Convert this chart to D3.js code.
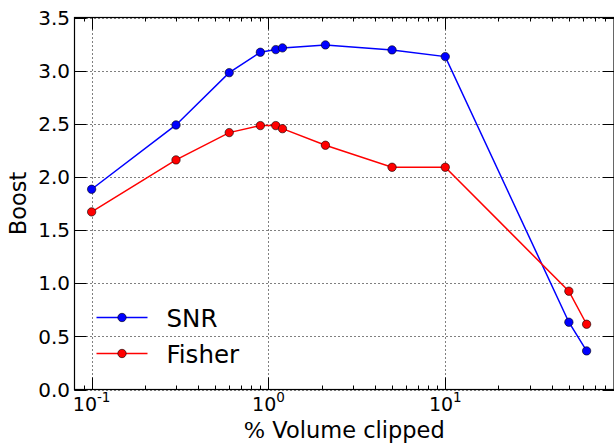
<!DOCTYPE html>
<html><head><meta charset="utf-8">
<script src="https://cdn.jsdelivr.net/npm/d3@7"></script>
<style>body{margin:0;background:#fff}svg{display:block}text{font-family:"DejaVu Sans",sans-serif;fill:#000}</style>
</head><body>
<svg id="c" width="614" height="445"></svg>
<script>
const xValues = [0.1, 0.3, 0.6, 0.9, 1.1, 1.2, 2.1, 5, 10, 50, 63];
const snrValues = [1.884, 2.489, 2.981, 3.173, 3.198, 3.214, 3.242, 3.195, 3.132, 0.633, 0.363];
const fisherValues = [1.671, 2.160, 2.417, 2.483, 2.483, 2.454, 2.298, 2.091, 2.091, 0.925, 0.614];
const yTicks = [0.0, 0.5, 1.0, 1.5, 2.0, 2.5, 3.0, 3.5];
const xMajorTicks = [0.1, 1, 10];
const xExponents = ["-1", "0", "1"];
const seriesNames = ["SNR", "Fisher"];
const seriesColors = ["#0000ff", "#ff0000"];

const L = 74.5, R = 614, T = 17.5, B = 389.5;
const svg = d3.select("#c");
const x = d3.scaleLog().domain([0.08, 90]).range([L, R]);
const y = d3.scaleLinear().domain([0, 3.5]).range([B, T]);

// grid
const g = svg.append("g");
xMajorTicks.forEach(v => g.append("line").attr("x1", Math.round(x(v))+0.5).attr("x2", Math.round(x(v))+0.5)
  .attr("y1", T).attr("y2", B).attr("stroke", "#000").attr("stroke-width", 1).attr("stroke-dasharray", "1,3"));
yTicks.forEach(v => g.append("line").attr("y1", Math.round(y(v))+0.5).attr("y2", Math.round(y(v))+0.5)
  .attr("x1", L).attr("x2", R).attr("stroke", "#000").attr("stroke-width", 1).attr("stroke-dasharray", "1,3"));

// minor x ticks
const minor = [];
for (let d = 0.01; d <= 10; d *= 10) for (let k = 2; k <= 9; k++) { const v = +(k*d).toPrecision(3); if (v > 0.08 && v < 90) minor.push(v); }

const ticks = svg.append("g").attr("stroke", "#000").attr("stroke-width", 1);
minor.forEach(v => {
  const px = Math.round(x(v))+0.5;
  ticks.append("line").attr("x1", px).attr("x2", px).attr("y1", B).attr("y2", B-4);
  ticks.append("line").attr("x1", px).attr("x2", px).attr("y1", T).attr("y2", T+4);
});
xMajorTicks.forEach(v => {
  const px = Math.round(x(v))+0.5;
  ticks.append("line").attr("x1", px).attr("x2", px).attr("y1", B).attr("y2", B-12);
  ticks.append("line").attr("x1", px).attr("x2", px).attr("y1", T).attr("y2", T+12);
});
yTicks.forEach(v => {
  const py = Math.round(y(v))+0.5;
  ticks.append("line").attr("x1", L).attr("x2", L+12).attr("y1", py).attr("y2", py);
  ticks.append("line").attr("x1", R).attr("x2", R-11).attr("y1", py).attr("y2", py);
});

// spines
svg.append("rect").attr("x", L).attr("y", T).attr("width", R-L).attr("height", B-T)
  .attr("fill", "none").attr("stroke", "#000").attr("stroke-width", 1.2);

// tick labels
yTicks.forEach(v => svg.append("text").attr("x", 70).attr("y", y(v)).attr("dy", "0.36em")
  .attr("text-anchor", "end").attr("font-size", 20).text(d3.format(".1f")(v)));
xMajorTicks.forEach((v, i) => {
  const t = svg.append("text").attr("x", x(v)).attr("y", 411).attr("text-anchor", "middle").attr("font-size", 19);
  t.append("tspan").text("10");
  t.append("tspan").attr("font-size", 13.5).attr("dy", -9.5).text(xExponents[i]);
});

// axis labels
const xl = svg.append("text").attr("x", (L+R)/2).attr("y", 437.5).attr("text-anchor", "middle").attr("font-size", 22.5);
xl.append("tspan").attr("font-family", "DejaVu Serif").text("%");
xl.append("tspan").text(" Volume clipped");
svg.append("text").attr("transform", `translate(26,${(T+B)/2}) rotate(-90)`).attr("text-anchor", "middle")
  .attr("font-size", 22.5).text("Boost");

// series
const series = [snrValues, fisherValues];
const line = d3.line().x((d, i) => x(xValues[i])).y(d => y(d));
series.forEach((vals, s) => {
  svg.append("path").attr("d", line(vals)).attr("fill", "none").attr("stroke", seriesColors[s]).attr("stroke-width", 1.5);
  svg.append("g").selectAll("circle").data(vals).join("circle")
    .attr("cx", (d, i) => x(xValues[i])).attr("cy", d => y(d)).attr("r", 4.2)
    .attr("fill", seriesColors[s]).attr("stroke", "#000").attr("stroke-width", 0.6);
});

// legend
const ly = [317.5, 353.5];
seriesNames.forEach((n, s) => {
  svg.append("line").attr("x1", 96.5).attr("x2", 147.5).attr("y1", ly[s]).attr("y2", ly[s])
    .attr("stroke", seriesColors[s]).attr("stroke-width", 1.5);
  svg.append("circle").attr("cx", 122).attr("cy", ly[s]).attr("r", 4.2)
    .attr("fill", seriesColors[s]).attr("stroke", "#000").attr("stroke-width", 0.6);
  svg.append("text").attr("x", 166.5).attr("y", ly[s] + 9).attr("font-size", 24.5).text(n);
});
</script>
</body></html>
